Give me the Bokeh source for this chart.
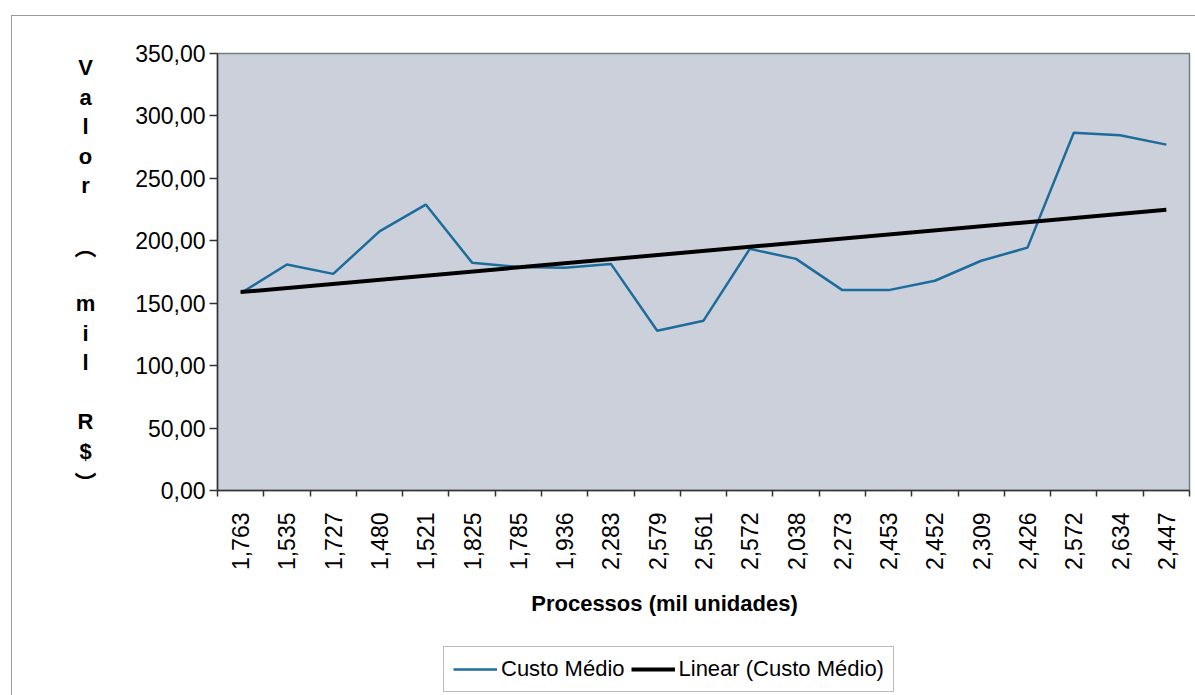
import numpy as np
from bokeh.plotting import figure
from bokeh.layouts import column, row
from bokeh.models import Range1d, FixedTicker, Label, Legend, LegendItem
from bokeh.embed import file_html
from bokeh.resources import INLINE

# ---- data ----
categories = ["1,763", "1,535", "1,727", "1,480", "1,521", "1,825", "1,785",
              "1,936", "2,283", "2,579", "2,561", "2,572", "2,038", "2,273",
              "2,453", "2,452", "2,309", "2,426", "2,572", "2,634", "2,447"]
custo_medio = [158, 181, 173.5, 207.5, 229, 182.5, 179, 178.5, 181.5, 128,
               136, 193.5, 185.5, 160.5, 160.5, 168, 184, 194.5, 286.5,
               284.5, 277]
y_ticks = [0, 50, 100, 150, 200, 250, 300, 350]
y_tick_labels = ["0,00", "50,00", "100,00", "150,00", "200,00", "250,00",
                 "300,00", "350,00"]
y_title_chars = ["V", "a", "l", "o", "r", " ", "\ufe35", " ", "m", "i", "l",
                 " ", "R", "$", "\ufe36"]
x_title = "Processos (mil unidades)"
legend_labels = ["Custo Médio", "Linear (Custo Médio)"]

FONT = "Liberation Sans"
BLUE = "#1C6C9C"

xs = np.arange(len(categories))
slope, intercept = np.polyfit(xs, custo_medio, 1)
trend_x = [xs[0], xs[-1]]
trend_y = [intercept + slope * xs[0], intercept + slope * xs[-1]]

# ---------------- main chart ----------------
MAIN_W, MAIN_H = 1083, 574
TOP, BOTTOM = 37, 100
FRAME_H = MAIN_H - TOP - BOTTOM
p = figure(width=MAIN_W, height=MAIN_H, output_backend="svg", toolbar_location=None,
           x_range=Range1d(-0.5, len(categories) - 0.5),
           y_range=Range1d(0, 350),
           min_border_left=105, min_border_right=6, min_border_top=TOP,
           min_border_bottom=BOTTOM)
p.background_fill_color = "#CBD0DA"
p.border_fill_color = "white"
p.outline_line_color = "#6f7f80"
p.outline_line_width = 1.5
p.xgrid.visible = False
p.ygrid.visible = False

p.xaxis.ticker = FixedTicker(ticks=list(xs),
                             minor_ticks=[i - 0.5 for i in range(len(categories) + 1)])
p.xaxis.major_label_overrides = {int(i): c for i, c in zip(xs, categories)}
p.xaxis.major_label_orientation = np.pi / 2
p.xaxis.major_tick_out = 0
p.xaxis.major_tick_in = 0
p.xaxis.minor_tick_out = 6
p.xaxis.minor_tick_in = 0
p.xaxis.minor_tick_line_color = "#333333"
p.xaxis.minor_tick_line_width = 1.5
p.xaxis.major_label_standoff = 16
p.xaxis.major_label_text_font = FONT
p.xaxis.major_label_text_font_size = "23px"
p.xaxis.major_label_text_color = "black"
p.xaxis.axis_line_color = "#333333"
p.xaxis.axis_line_width = 1.5

p.yaxis.ticker = FixedTicker(ticks=y_ticks, minor_ticks=[])
p.yaxis.major_label_overrides = {t: l for t, l in zip(y_ticks, y_tick_labels)}
p.yaxis.major_tick_out = 8
p.yaxis.major_tick_in = 0
p.yaxis.minor_tick_out = 0
p.yaxis.major_tick_line_color = "#333333"
p.yaxis.major_tick_line_width = 1.5
p.yaxis.major_label_standoff = 4
p.yaxis.major_label_text_font = FONT
p.yaxis.major_label_text_font_size = "23px"
p.yaxis.major_label_text_color = "black"
p.yaxis.axis_line_color = "#333333"
p.yaxis.axis_line_width = 1.5

p.line(xs, custo_medio, line_color=BLUE, line_width=2.5)
p.line(trend_x, trend_y, line_color="black", line_width=4)


def blank_figure(w, h, y_extent=None):
    f = figure(width=w, height=h, output_backend="svg", toolbar_location=None,
               x_range=Range1d(0, w), y_range=Range1d(0, y_extent or h),
               x_axis_location=None, y_axis_location=None,
               min_border=0, min_border_left=0, min_border_right=0,
               min_border_top=0, min_border_bottom=0)
    f.xgrid.visible = False
    f.ygrid.visible = False
    f.outline_line_color = None
    f.background_fill_color = "white"
    f.border_fill_color = "white"
    return f


# ---------------- stacked y-axis title ----------------
# (its frame lines up with the main chart's frame in the row)
YT_W = 100
py = blank_figure(YT_W, MAIN_H, y_extent=FRAME_H)
for k, ch in enumerate(y_title_chars):
    if ch.strip() == "":
        continue
    font = "Noto Sans CJK JP" if ch in ("\ufe35", "\ufe36") else FONT
    py.add_layout(Label(x=73, y=423 - 29.5 * k, text=ch, text_font=font,
                        text_font_style="bold", text_font_size="22px",
                        text_align="center", text_baseline="middle",
                        text_color="black"))

# ---------------- x title and legend ----------------
BOT_W, BOT_H = YT_W + MAIN_W, 105
pb = blank_figure(BOT_W, BOT_H)
pb.add_layout(Label(x=652, y=92, text=x_title, text_font=FONT,
                    text_font_style="bold", text_font_size="22px",
                    text_align="center", text_baseline="middle",
                    text_color="black"))
nan = [float("nan")]
l1 = pb.line(nan, nan, line_color=BLUE, line_width=2.5)
l2 = pb.line(nan, nan, line_color="black", line_width=4)
legend = Legend(items=[LegendItem(label=legend_labels[0], renderers=[l1]),
                       LegendItem(label=legend_labels[1], renderers=[l2])],
                orientation="horizontal", location=(431, 3))
legend.label_text_font = FONT
legend.label_text_font_size = "22px"
legend.label_text_color = "black"
legend.glyph_width = 44
legend.label_standoff = 4
legend.spacing = 6
legend.padding = 9
legend.margin = 0
legend.border_line_color = "#777777"
legend.border_line_width = 1
legend.background_fill_color = "white"
legend.background_fill_alpha = 1
pb.add_layout(legend, "center")

layout = column(row(py, p), pb)
layout.styles = {"margin-left": "11px", "margin-top": "15px",
                 "border-left": "1px solid #9a9a9a", "border-top": "1px solid #9a9a9a"}

open("out.html", "w").write(file_html(layout, INLINE))
